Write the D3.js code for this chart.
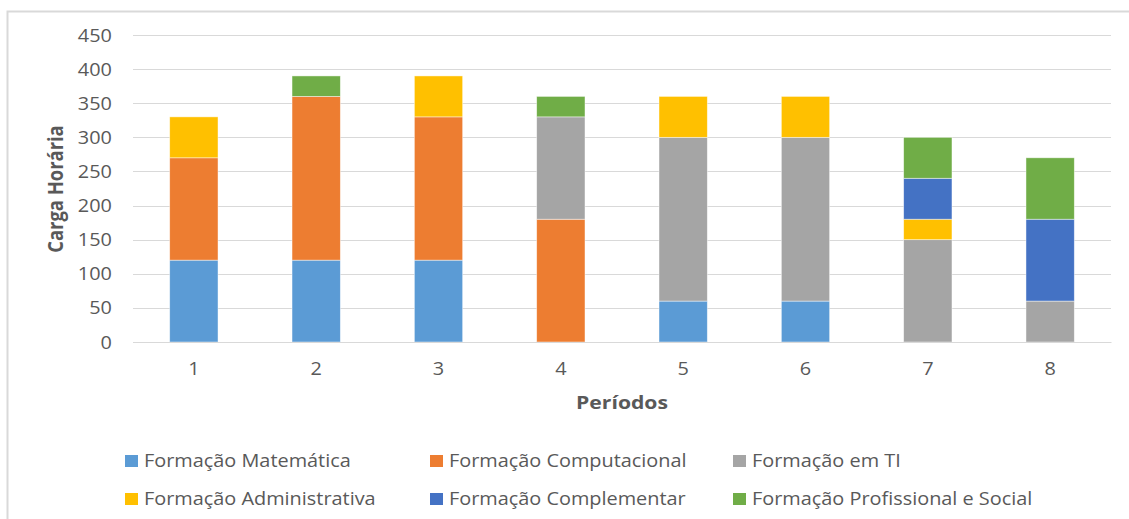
<!DOCTYPE html>
<html><head><meta charset="utf-8">
<script src="https://cdn.jsdelivr.net/npm/d3@7"></script>
<style>body{margin:0;background:#fff}svg{display:block}text{font-family:"Open Sans","Noto Sans",sans-serif}</style>
</head><body>
<script>
const periods = ["1","2","3","4","5","6","7","8"];
const seriesNames = ["Formação Matemática","Formação Computacional","Formação em TI","Formação Administrativa","Formação Complementar","Formação Profissional e Social"];
const matematica   = [120,120,120,0,60,60,0,0];
const computacional= [150,240,210,180,0,0,0,0];
const ti           = [0,0,0,150,240,240,150,60];
const administrativa=[60,0,60,0,60,60,30,0];
const complementar = [0,0,0,0,0,0,60,120];
const profissional = [0,30,0,30,0,0,60,90];
const yTicks = [0,50,100,150,200,250,300,350,400,450];
const colors = ["#5B9BD5","#ED7D31","#A5A5A5","#FFC000","#4472C4","#70AD47"];

(function(){
const W=1129,H=519, SX=1.15;
const svg=d3.select("body").append("svg").attr("width",W).attr("height",H);
svg.append("rect").attr("x",7.5).attr("y",11.5).attr("width",W+10).attr("height",H+10).attr("fill","#fff").attr("stroke","#d9d9d9").attr("stroke-width",2);

const pL=133,pR=1111,pT=35,pB=342;
const x=d3.scaleBand().domain(periods).range([pL,pR]).paddingInner(0.605).paddingOuter(0.3);
const y=d3.scaleLinear().domain([0,450]).range([pB,pT]);

const rows=periods.map((p,i)=>({p,s0:matematica[i],s1:computacional[i],s2:ti[i],s3:administrativa[i],s4:complementar[i],s5:profissional[i]}));
const stack=d3.stack().keys(["s0","s1","s2","s3","s4","s5"])(rows);

const grid=svg.append("g");
grid.selectAll("line").data(yTicks).join("line")
 .attr("x1",pL).attr("x2",pR).attr("y1",d=>Math.round(y(d))+0.5).attr("y2",d=>Math.round(y(d))+0.5)
 .attr("stroke","#d9d9d9").attr("stroke-width",1);

const yAxis=svg.append("g").attr("transform",`translate(${pL},0)`)
 .call(d3.axisLeft(y).tickValues(yTicks).tickSize(0).tickPadding(18.3));
yAxis.select(".domain").remove();
yAxis.selectAll("text").attr("fill","#595959").style("font-size","17.3px").attr("dy","0.35em")
 .attr("transform",`scale(${SX},1)`);

svg.append("g").selectAll("g").data(stack).join("g").attr("fill",(d,i)=>colors[i])
 .selectAll("rect").data(d=>d.filter(s=>s[1]>s[0])).join("rect")
 .attr("x",d=>x(d.data.p)).attr("width",x.bandwidth())
 .attr("y",d=>y(d[1])).attr("height",d=>y(d[0])-y(d[1]))
 .attr("stroke","#ffffff").attr("stroke-opacity",0.6).attr("stroke-width",0.75);

const xAxis=svg.append("g").attr("transform",`translate(0,${pB})`)
 .call(d3.axisBottom(x).tickSize(0).tickPadding(21));
xAxis.select(".domain").attr("stroke","#d9d9d9");
xAxis.selectAll("text").attr("fill","#595959").style("font-size","17.3px").attr("transform",`scale(${SX},1)`);

svg.append("text").attr("transform",`translate(56,189) rotate(-90) scale(1,${SX})`).attr("text-anchor","middle")
 .attr("dy","0.35em").attr("fill","#595959").style("font-size","18.4px").style("font-weight","bold").text("Carga Horária");
svg.append("text").attr("transform",`translate(622,403) scale(${SX},1)`).attr("text-anchor","middle").attr("dy","0.35em")
 .attr("fill","#595959").style("font-size","18.4px").style("font-weight","bold").text("Períodos");

const colX=[125,430,733],rowY=[461,499];
const leg=svg.append("g").selectAll("g").data(seriesNames).join("g")
 .attr("transform",(d,i)=>`translate(${colX[i%3]},${rowY[Math.floor(i/3)]})`);
leg.append("rect").attr("x",0).attr("y",-6).attr("width",13).attr("height",12).attr("fill",(d,i)=>colors[i]);
leg.append("text").attr("transform",`translate(19,0) scale(${SX},1)`).attr("dy","0.35em").attr("fill","#595959").style("font-size","17.3px").text(d=>d);
})();
</script>
</body></html>
